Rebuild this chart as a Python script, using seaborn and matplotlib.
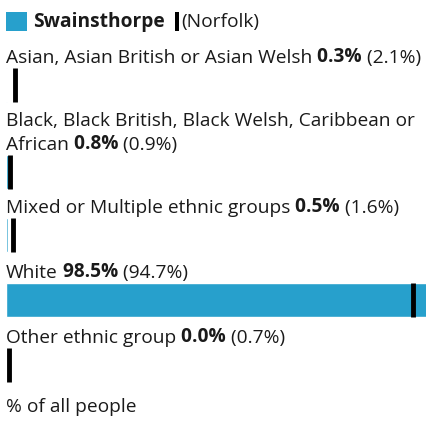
import numpy as np
import seaborn as sns
import matplotlib.pyplot as plt
from matplotlib.patches import Rectangle

# data
groups = [
    "Asian, Asian British or Asian Welsh",
    "Black, Black British, Black Welsh, Caribbean or\nAfrican",
    "Mixed or Multiple ethnic groups",
    "White",
    "Other ethnic group",
]
area_pct = [0.3, 0.8, 0.5, 98.5, 0.0]
county_pct = [2.1, 0.9, 1.6, 94.7, 0.7]
area_name = "Swainsthorpe"
county_name = "Norfolk"
footer = "% of all people"

# layout (pixels from top)
W, H = 427, 422
baselines = [63, 150, 213, 278, 343]
line_h = 24
bar_px = 34
bar_gap = 5
left_px = 6
BLUE = "#27a0cc"
TXT = "#1a1a1a"
FS = 13.8

sns.set_theme(style="white")
plt.rcParams["font.family"] = ["Open Sans", "DejaVu Sans"]

fig = plt.figure(figsize=(W / 100, H / 100), dpi=100)

# bars axes: value scale 0..max
ax = fig.add_axes([left_px / W, 0, 423 / W, 1])
centers = [b + bar_gap + bar_px / 2 for b in baselines]
width = bar_px / np.diff(sorted(centers)).min()
sns.barplot(x=area_pct, y=centers, orient="h", native_scale=True,
            width=width, color=BLUE, saturation=1, errorbar=None, ax=ax)
ax.vlines(county_pct, [c - bar_px / 2 for c in centers],
          [c + bar_px / 2 for c in centers], color="black", lw=3.5)
ax.set_xlim(0, max(area_pct))
ax.set_ylim(H, 0)
ax.axis("off")

# overlay axes in pixel coordinates for text
ov = fig.add_axes([0, 0, 1, 1], facecolor="none")
ov.set_xlim(0, W)
ov.set_ylim(H, 0)
ov.axis("off")


def chain(pieces, x, y):
    prev = None
    for txt, weight in pieces:
        if prev is None:
            prev = ov.text(x, y, txt, fontsize=FS, fontweight=weight,
                           color=TXT, va="baseline", ha="left")
        else:
            prev = ov.annotate(txt, xy=(1, 0), xycoords=prev, fontsize=FS,
                               fontweight=weight, color=TXT, va="bottom",
                               ha="left")
    return prev


for g, a, c, b in zip(groups, area_pct, county_pct, baselines):
    lines = g.split("\n")
    for i, ln in enumerate(lines[:-1]):
        ov.text(left_px, b - line_h * (len(lines) - 1 - i), ln, fontsize=FS,
                color=TXT, va="baseline", ha="left")
    chain([(lines[-1], "normal"), (f" {a:.1f}%", "bold"),
           (f" ({c:.1f}%)", "normal")], left_px, b)

ov.text(left_px, 412, footer, fontsize=FS, color=TXT, va="baseline")

# legend
ov.add_patch(Rectangle((6, 12), 21, 19, color=BLUE, lw=0))
t1 = ov.text(33, 27, area_name, fontsize=FS, fontweight="bold", color=TXT,
             va="baseline")
fig.canvas.draw()
bb = t1.get_window_extent().transformed(ov.transData.inverted())
mx = bb.x1 + 10
ov.add_patch(Rectangle((mx, 12), 4.5, 19, color="black", lw=0))
ov.text(mx + 7, 27, f"({county_name})", fontsize=FS, color=TXT,
        va="baseline")

fig.savefig("out.png", dpi=100)
